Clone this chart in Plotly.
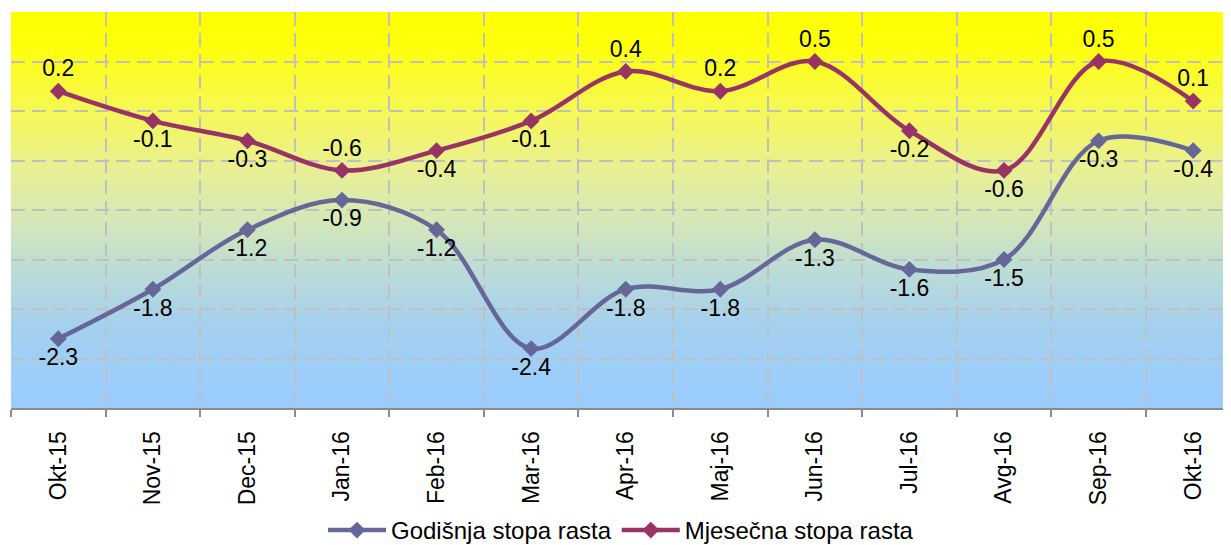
import plotly.graph_objects as go

categories = ["Okt-15", "Nov-15", "Dec-15", "Jan-16", "Feb-16", "Mar-16", "Apr-16",
              "Maj-16", "Jun-16", "Jul-16", "Avg-16", "Sep-16", "Okt-16"]
godisnja = [-2.3, -1.8, -1.2, -0.9, -1.2, -2.4, -1.8, -1.8, -1.3, -1.6, -1.5, -0.3, -0.4]
mjesecna = [0.2, -0.1, -0.3, -0.6, -0.4, -0.1, 0.4, 0.2, 0.5, -0.2, -0.6, 0.5, 0.1]
mjesecna_pos = ["top center", "bottom center", "bottom center", "top center", "bottom center",
                "bottom center", "top center", "top center", "top center", "bottom center",
                "bottom center", "top center", "top center"]

FONT = "Liberation Sans, Arial, sans-serif"
xs = list(range(len(categories)))

fig = go.Figure()
fig.add_trace(go.Scatter(
    x=xs, y=godisnja, name="Godišnja stopa rasta", mode="lines+markers+text",
    line=dict(color="#666699", width=4.5, shape="spline", smoothing=1),
    marker=dict(symbol="diamond", size=13, color="#666699"),
    text=[f"{v:.1f}" for v in godisnja], textposition="bottom center",
    textfont=dict(family=FONT, size=23, color="black"), hoverinfo="skip"))
fig.add_trace(go.Scatter(
    x=xs, y=mjesecna, name="Mjesečna stopa rasta", mode="lines+markers+text",
    line=dict(color="#993366", width=4.5, shape="spline", smoothing=1),
    marker=dict(symbol="diamond", size=13, color="#993366"),
    text=[f"{v:.1f}" for v in mjesecna], textposition=mjesecna_pos,
    textfont=dict(family=FONT, size=23, color="black"), hoverinfo="skip"))

# vertical gradient background (yellow -> light blue)
stops = [(0.0, (255, 255, 0)), (0.08, (255, 255, 10)), (0.25, (246, 248, 85)),
         (0.40, (232, 239, 149)), (0.52, (214, 232, 182)), (0.65, (188, 220, 214)),
         (0.80, (164, 208, 240)), (1.0, (153, 204, 255))]

def col_at(f):
    for (f0, c0), (f1, c1) in zip(stops[:-1], stops[1:]):
        if f0 <= f <= f1:
            t = (f - f0) / (f1 - f0) if f1 > f0 else 0
            return "rgb(%d,%d,%d)" % tuple(round(a + (b - a) * t) for a, b in zip(c0, c1))
    return "rgb(153,204,255)"

nb = 130
shapes = []
for i in range(nb):
    ftop = i / nb
    fbot = (i + 1) / nb
    shapes.append(dict(type="rect", xref="paper", yref="paper", x0=0, x1=1,
                       y0=1 - fbot - 0.002, y1=1 - ftop, line=dict(width=0),
                       fillcolor=col_at((ftop + fbot) / 2), layer="below"))

# page body has an 8px margin, so the figure is sized/offset to fill 1231x545
fig.update_layout(
    width=1223, height=537,
    margin=dict(l=2.5, r=0, t=3.7, b=137, pad=0),
    paper_bgcolor="white", plot_bgcolor="rgba(0,0,0,0)",
    shapes=shapes,
    showlegend=True,
    legend=dict(orientation="h", x=0.5, xanchor="center", yref="container", y=0.027,
                yanchor="middle", font=dict(family=FONT, size=24, color="black"),
                bgcolor="rgba(0,0,0,0)", itemwidth=58, tracegroupgap=0),
    font=dict(family=FONT, color="black"),
)
fig.update_xaxes(
    range=[-0.5, 12.4], tickmode="array", tickvals=xs, ticktext=categories,
    tickangle=-90, tickfont=dict(family=FONT, size=23, color="black"),
    showgrid=False, ticks="", ticklabelstandoff=12, automargin=False,
    showline=True, linecolor="#8c8c8c", linewidth=2, zeroline=False,
    minor=dict(tickvals=[i - 0.5 for i in range(len(categories) + 1)], showgrid=True,
               gridcolor="#c0c0c0", gridwidth=2, griddash="14px,7px",
               ticks="outside", ticklen=7, tickcolor="#8c8c8c", tickwidth=2),
)
fig.update_yaxes(
    range=[-3, 1], dtick=0.5, tick0=0, showticklabels=False, ticks="",
    showgrid=True, gridcolor="#c0c0c0", gridwidth=2, griddash="14px,7px",
    zeroline=False, showline=False, automargin=False,
)

fig.write_html("out.html")
